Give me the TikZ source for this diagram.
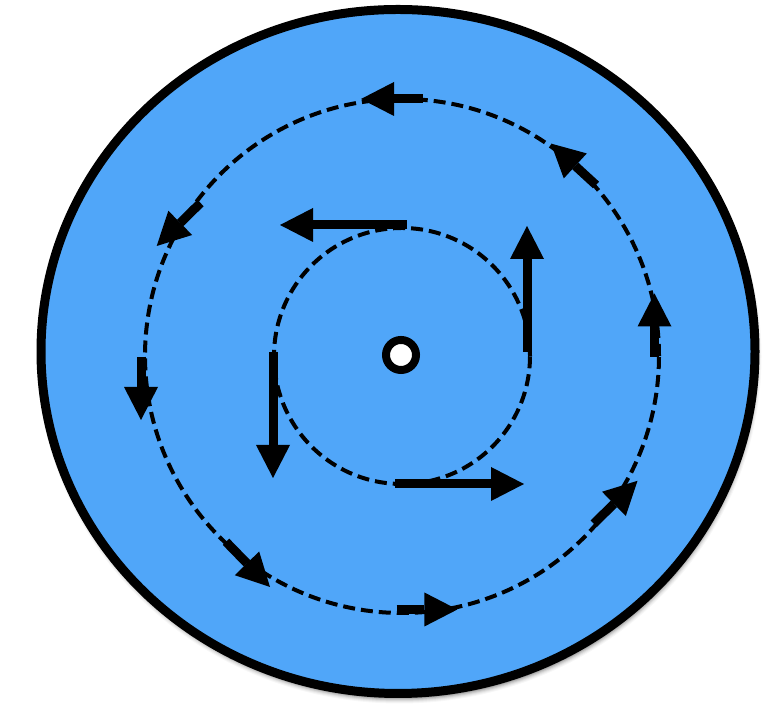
\documentclass[tikz,border=0pt]{standalone}
\usetikzlibrary{arrows.meta}
\definecolor{disk}{RGB}{80,166,249}
\begin{document}
\begin{tikzpicture}[x=1pt,y=1pt,
  flow/.style={line width=9pt,-{Triangle[length=33pt,width=34pt,line width=0pt]}},
  orbit/.style={line width=4pt,dash pattern=on 12pt off 6pt}]
\useasboundingbox (0,0) rectangle (763,708);
% shadow
\foreach \i/\o in {0/0.12,1/0.10,2/0.08,3/0.06,4/0.04,5/0.03}
  \fill[black,opacity=\o] (399.5,351.5) ellipse ({357+\i} and {342+\i});
% disk
\draw[line width=9pt,fill=disk] (398,356.5) ellipse (357 and 342);
% named points
\coordinate (C) at (402,352);
% dashed orbits
\draw[orbit] (C) circle (257);
\draw[orbit] (C) circle (128);
% inner arrows
\coordinate (i1a) at (407,483); \coordinate (i1b) at (280,483);
\coordinate (i2a) at (527,356); \coordinate (i2b) at (527,482);
\coordinate (i3a) at (395,224); \coordinate (i3b) at (524,224);
\coordinate (i4a) at (273,356); \coordinate (i4b) at (273,230);
\draw[flow] (i1a) -- (i1b);
\draw[flow] (i2a) -- (i2b);
\draw[flow] (i3a) -- (i3b);
\draw[flow] (i4a) -- (i4b);
% outer arrows
\coordinate (o1a) at (423,609);   \coordinate (o1b) at (361,609);
\coordinate (o2a) at (596,523);   \coordinate (o2b) at (551,564.4);
\coordinate (o3a) at (654.5,351.3); \coordinate (o3b) at (654.5,414.5);
\coordinate (o4a) at (593.7,184.3); \coordinate (o4b) at (637.5,227.2);
\coordinate (o5a) at (396.6,98.5);  \coordinate (o5b) at (457.4,98.5);
\coordinate (o6a) at (226,166.2);   \coordinate (o6b) at (270,121);
\coordinate (o7a) at (141,351.3);   \coordinate (o7b) at (141,288);
\coordinate (o8a) at (200.5,505);   \coordinate (o8b) at (156.7,462);
\foreach \k in {1,...,8} \draw[flow] (o\k a) -- (o\k b);
% centre dot
\node[circle,draw=black,line width=8pt,fill=white,minimum size=30pt,inner sep=0pt] (dot) at (401,353) {};
\end{tikzpicture}
\end{document}
